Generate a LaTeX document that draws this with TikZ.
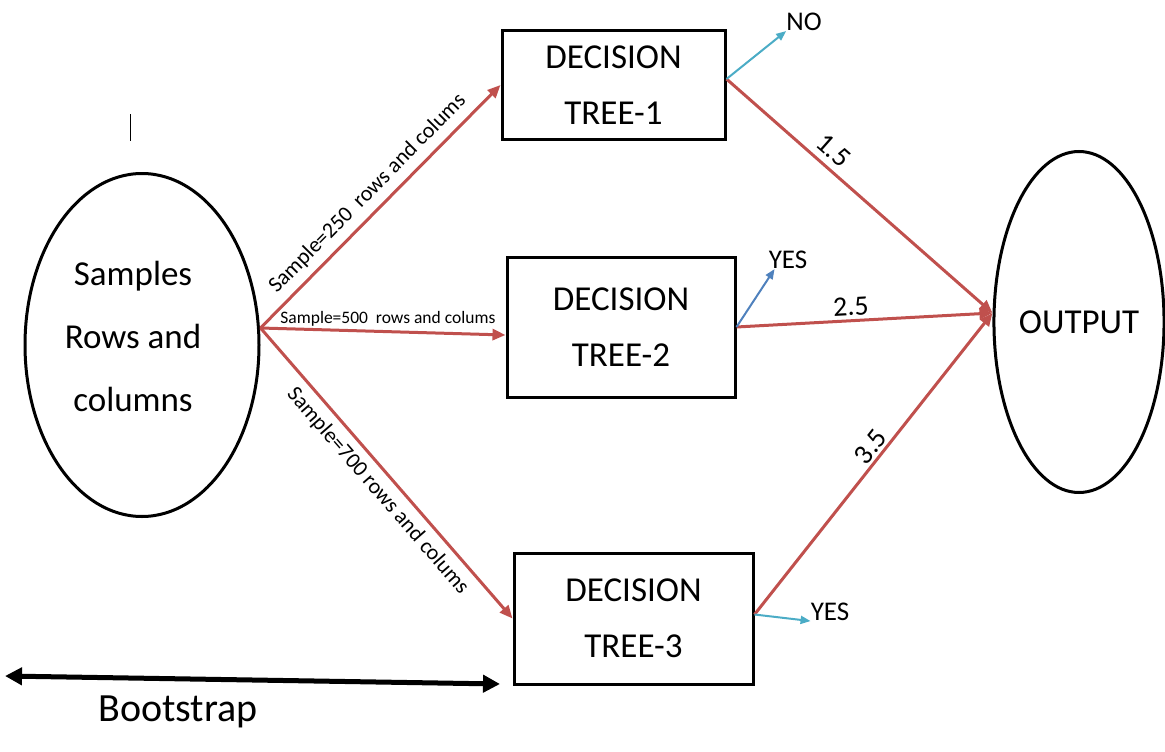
\documentclass[tikz,border=0pt]{standalone}
\usepackage{fontspec}
\setmainfont{Carlito}
\usetikzlibrary{arrows.meta, positioning, shapes.geometric}

\definecolor{arrowred}{RGB}{192,80,77}
\definecolor{answercyan}{RGB}{75,172,198}
\definecolor{answerblue}{RGB}{79,129,189}

\begin{document}
\begin{tikzpicture}[x=1pt, y=-1pt,
      every node/.style={font=\fontsize{35}{56}\selectfont},
      tree/.style={rectangle, draw, line width=3pt, align=center},
      oval/.style={ellipse, draw, line width=3pt, align=center, inner sep=0pt},
      redarrow/.style={draw=arrowred, line width=3pt, -{Triangle[length=13pt, width=11pt]}},
      answerarrow/.style={line width=2pt, -{Triangle[length=10pt, width=8pt]}},
      answer/.style={font=\fontsize{27}{32}\selectfont, inner sep=0pt},
      samplelabel/.style={sloped, font=\fontsize{22}{26}\selectfont},
      score/.style={sloped, font=\fontsize{28}{32}\selectfont}]

      \useasboundingbox (0,0) rectangle (1165,752);

      % Blocks
      \node[oval, minimum width=234pt, minimum height=343pt] (samples) at (142,345) {};
      \node[align=center, font=\fontsize{35}{63}\selectfont] (samplestext) at (133,336) {Samples\\Rows and\\columns};
      \node[tree, minimum width=223pt, minimum height=108pt] (tree1) at (613.5,85) {DECISION\\TREE-1};
      \node[tree, minimum width=228pt, minimum height=140pt] (tree2) at (621,327) {DECISION\\TREE-2};
      \node[tree, minimum width=239pt, minimum height=131pt] (tree3) at (633.5,618.5) {DECISION\\TREE-3};
      \node[oval, minimum width=168pt, minimum height=341pt] (output) at (1079,322) {OUTPUT};

      % Samples to trees
      \draw[redarrow] ([yshift=17pt]samples.east) -- node[samplelabel, above=4pt, pos=0.5] (lab250) {Sample=250\ \ rows and colums} (tree1.west);
      \draw[redarrow] ([yshift=17pt]samples.east) -- node[above, pos=0.52, font=\fontsize{17.5}{21}\selectfont] (lab500) {Sample=500\ \ rows and colums} ([yshift=-8pt]tree2.west);
      \draw[redarrow] ([yshift=17pt]samples.east) -- node[samplelabel, below=4pt, pos=0.52] (lab700) {Sample=700 rows and colums} (tree3.west);

      % Trees to output
      \draw[redarrow] ([yshift=6pt]tree1.east) -- node[score, above=3pt, pos=0.36] (score1) {1.5} ([yshift=9pt]output.west);
      \draw[redarrow] (tree2.east) -- node[score, above, pos=0.45] (score2) {2.5} ([yshift=9pt]output.west);
      \draw[redarrow] ([yshift=4pt]tree3.east) -- node[score, above=-1pt, pos=0.53] (score3) {3.5} ([yshift=9pt]output.west);

      % Answers
      \node[answer] (no) at (804,22) {NO};
      \node[answer] (yes2) at (788,260) {YES};
      \node[answer] (yes3) at (830,612) {YES};
      \draw[answerarrow, answercyan] ([yshift=6pt]tree1.east) -- (no.south west);
      \draw[answerarrow, answerblue] (tree2.east) -- ([xshift=6pt]yes2.south west);
      \draw[answerarrow, answercyan] ([yshift=4pt]tree3.east) -- (yes3.south west);

      % Bootstrap
      \coordinate (bootleft) at (5,676);
      \coordinate (bootright) at (500,684);
      \draw[line width=5pt, {Triangle[length=17pt, width=17pt]}-{Triangle[length=17pt, width=17pt]}] (bootleft) -- (bootright);
      \node[font=\fontsize{40}{48}\selectfont] (bootstrap) at (178,712) {Bootstrap};

      % Cursor mark
      \draw[line width=1pt] (130,114) -- (130,141);
    \end{tikzpicture}
\end{document}
